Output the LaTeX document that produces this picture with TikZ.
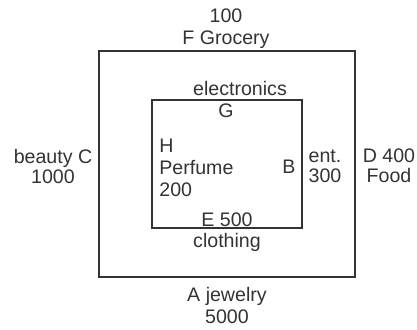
\documentclass[tikz,border=0pt]{standalone}
\usepackage{fontspec}
\setmainfont{Liberation Sans}
\usetikzlibrary{calc,positioning}
\definecolor{inkgray}{HTML}{333333}

\begin{document}
\begin{tikzpicture}[x=0.5pt,y=-0.5pt,
    lbl/.style={text=inkgray, inner sep=0pt, align=center, font=\fontsize{9.8}{11}\selectfont},
    tight/.style={font=\fontsize{9.8}{10}\selectfont},
    wall/.style={draw=inkgray, line width=0.75pt}]
 \useasboundingbox (0,0) rectangle (417,329);
 \coordinate (outer_nw) at (99,51);
 \coordinate (outer_se) at (355,277);
 \coordinate (inner_nw) at (152,100);
 \coordinate (inner_se) at (302,228);

    % draw boxes
    \draw[wall] (outer_nw) rectangle (outer_se);
    \draw[wall] (inner_nw) rectangle (inner_se);

    % outer labels
    \node (grocery) [lbl] at (226,28.5) {100\\F Grocery};
    \node (jewelry) [lbl] at (227,305) {A jewelry\\5000};
    \node (beauty)  [lbl,tight] at (53,166) {beauty C\\1000};
    \node (food)    [lbl,tight] at (389,166) {D 400\\Food};

    % inner labels
    \node (electronics) [lbl] at (240,88) {electronics};
    \node (clothing)    [lbl] at (227,242) {clothing};
    \node (ent)         [lbl,tight] at (325,166) {ent.\\300};
    \node (g_label)     [lbl] at (226,111) {G};
    \node (b_label)     [lbl] at (289,167) {B};
    \node (e_label)     [lbl] at (227,220) {E 500};
    \node (perfume)     [lbl,align=left,anchor=west] at (159,168) {H\\Perfume\\200};

\end{tikzpicture}
\end{document}
